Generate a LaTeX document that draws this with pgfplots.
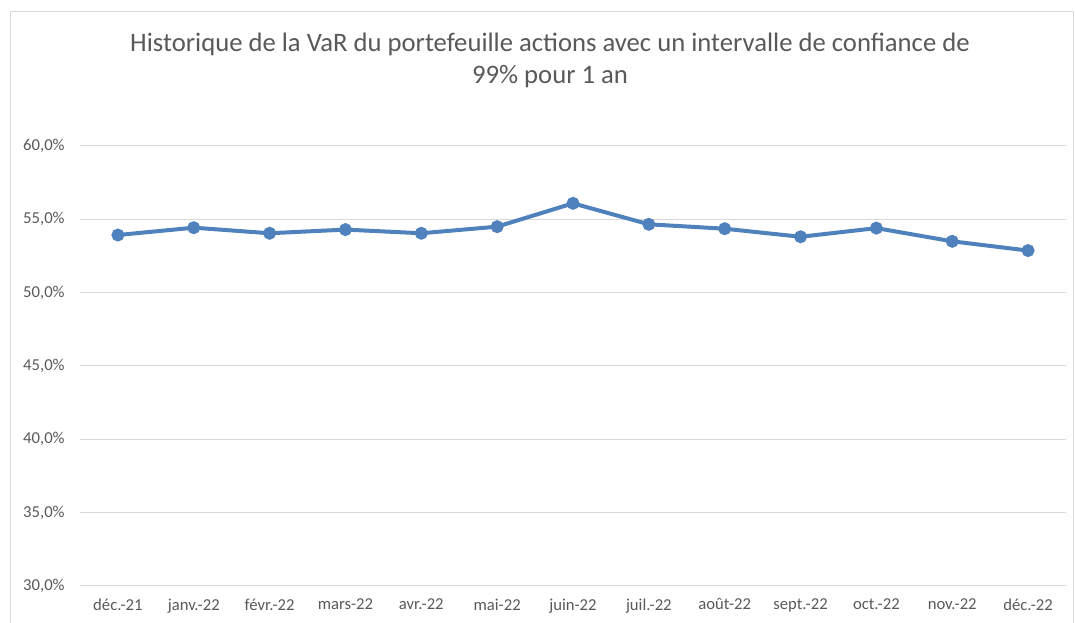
\documentclass[border=0pt]{standalone}
\usepackage{pgfplots}
\pgfplotsset{compat=1.18}
\usepackage{fontspec}
\setmainfont{Carlito}
\definecolor{txtgray}{HTML}{595959}
\definecolor{gridgray}{HTML}{D9D9D9}
\definecolor{serblue}{HTML}{4F81BD}
\definecolor{bordergray}{HTML}{D9D9D9}
\begin{document}
\begin{tikzpicture}[x=0.75pt,y=0.75pt]
\useasboundingbox (0,0) rectangle (1075,623);
\draw[bordergray,line width=0.75pt] (10,-5) rectangle (1073,611);
\node[align=center,text=txtgray,font=\fontsize{20}{24}\selectfont] at (550,562.5) {Historique de la VaR du portefeuille actions avec un intervalle de confiance de\\99\% pour 1 an};
\begin{axis}[
  at={(60pt,27.75pt)}, anchor=south west,
  scale only axis, width=739.5pt, height=330pt,
  xmin=-0.5, xmax=12.5, ymin=30, ymax=60,
  xtick={0,...,12},
  xticklabels={déc.-21,janv.-22,févr.-22,mars-22,avr.-22,mai-22,juin-22,juil.-22,août-22,sept.-22,oct.-22,nov.-22,déc.-22},
  ytick={30,35,40,45,50,55,60},
  yticklabels={{30,0\%},{35,0\%},{40,0\%},{45,0\%},{50,0\%},{55,0\%},{60,0\%}},
  ymajorgrids, grid style={gridgray,line width=0.75pt},
  axis line style={draw=none},
  major tick length=0pt,
  tick label style={text=txtgray,font=\fontsize{12.5}{14}\selectfont},
  xticklabel style={yshift=-6pt},
  yticklabel style={xshift=-8pt},
  /pgf/number format/assume math mode=true,
  clip=false,
]
\addplot[serblue,line width=3pt,mark=*,mark size=3.3pt,mark options={solid,fill=serblue,draw=none}] coordinates {
(0,53.93) (1,54.43) (2,54.05) (3,54.30) (4,54.05) (5,54.50) (6,56.09) (7,54.66) (8,54.36) (9,53.81) (10,54.40) (11,53.50) (12,52.87)
};
\end{axis}
\end{tikzpicture}
\end{document}
